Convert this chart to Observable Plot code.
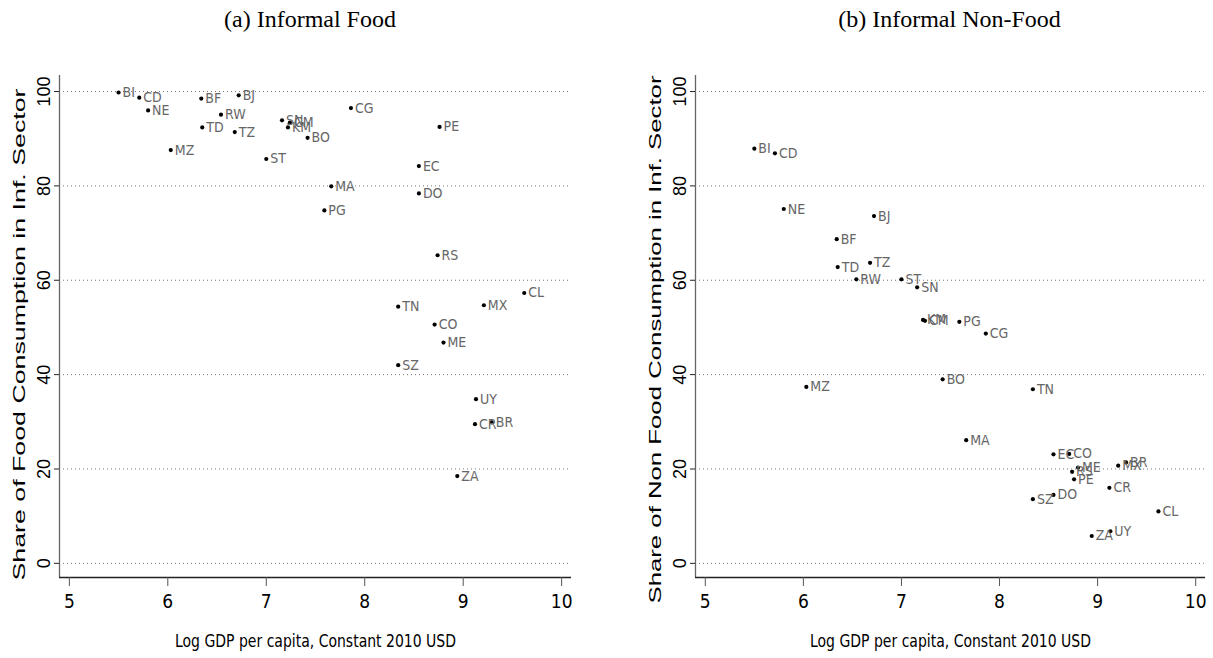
<!DOCTYPE html>
<html>
<head>
<meta charset="utf-8">
<script src="https://cdn.jsdelivr.net/npm/d3@7"></script>
<script src="https://cdn.jsdelivr.net/npm/@observablehq/plot@0.6"></script>
<style>
  html, body { margin: 0; padding: 0; background: #fff; }
  #wrap { display: flex; width: 1213px; height: 658px; }
  .col { display: flex; flex-direction: column; }
  .title { height: 40px; line-height: 38px; font-family: "Liberation Serif", "DejaVu Serif", serif; font-size: 24px; color: #000; text-align: center; }
</style>
</head>
<body>
<div id="wrap">
  <div class="col" id="colA" style="width:606px"><div class="title" style="padding-left:14px">(a) Informal Food</div></div>
  <div class="col" id="colB" style="width:607px"><div class="title" style="padding-left:80px">(b) Informal Non-Food</div></div>
</div>
<script>
// ---- data ----
const countries = ["BI","CD","NE","BF","BJ","RW","TD","TZ","MZ","ST","SN","CM","KM","BO","CG","MA","PG","PE","EC","DO","RS","CL","TN","MX","CO","ME","SZ","UY","CR","BR","ZA"];
const logGdp   = [5.50,5.71,5.80,6.34,6.72,6.54,6.35,6.68,6.03,7.00,7.16,7.24,7.22,7.42,7.86,7.66,7.59,8.76,8.55,8.55,8.74,9.62,8.34,9.21,8.71,8.80,8.34,9.13,9.12,9.29,8.94];
const foodShare    = [99.8,98.7,96.0,98.5,99.2,95.1,92.4,91.4,87.6,85.7,93.9,93.4,92.4,90.2,96.5,79.9,74.8,92.5,84.2,78.4,65.3,57.3,54.4,54.7,50.6,46.8,42.0,34.8,29.5,29.9,18.5];
const nonFoodShare = [87.9,86.9,75.1,68.7,73.6,60.2,62.8,63.7,37.4,60.2,58.5,51.4,51.6,39.0,48.7,26.1,51.2,17.8,23.1,14.5,19.4,11.0,36.9,20.7,23.2,20.3,13.6,6.8,16.0,21.4,5.8];
const xTicks = [5,6,7,8,9,10];
const yTicks = [0,20,40,60,80,100];
const xLabel = "Log GDP per capita, Constant 2010 USD";
const yLabelA = "Share of Food Consumption in Inf. Sector";
const yLabelB = "Share of Non Food Consumption in Inf. Sector";

const rows = countries.map((c, i) => ({code: c, gdp: logGdp[i], food: foodShare[i], nonfood: nonFoodShare[i]}));

const xDomain = [4.9, 10.1];
const yDomain = [-3, 103.4];
const sans = "'Liberation Sans', Arial, sans-serif";
const narrow = "'Liberation Sans Narrow', 'DejaVu Sans Condensed', sans-serif";

function panel(key, yLabel, width, marginLeft, marginRight, yLabelLen, yLabelShift) {
  const svg = Plot.plot({
    width, height: 618,
    marginTop: 35, marginBottom: 81, marginLeft, marginRight,
    style: {background: "#fff", fontFamily: sans},
    x: {domain: xDomain},
    y: {domain: yDomain},
    marks: [
      Plot.gridY(yTicks, {stroke: "#777", strokeOpacity: 1, strokeDasharray: "1,3", strokeWidth: 1}),
      Plot.ruleX([xDomain[0]], {stroke: "#666", strokeWidth: 1.3}),
      Plot.ruleY([yDomain[0]], {stroke: "#222", strokeWidth: 1.3}),
      Plot.axisX(xTicks, {tickSize: 9, tickPadding: 8, stroke: "#555", fontSize: 19, fontFamily: narrow, fill: "#000",
        label: xLabel, labelAnchor: "center", labelOffset: 69, labelArrow: "none"}),
      Plot.axisY(yTicks, {tickSize: 5, tickPadding: 5, tickRotate: -90, stroke: "#222", fontSize: 18, fill: "#000",
        label: yLabel, labelAnchor: "center", labelOffset: 47, labelArrow: "none"}),
      Plot.dot(rows, {x: "gdp", y: key, r: 2.1, fill: "#000", stroke: "none"}),
      Plot.text(rows, {x: "gdp", y: key, text: "code", dx: 4, textAnchor: "start", fill: "#666", fontSize: 14, fontFamily: narrow})
    ]
  });
  svg.querySelectorAll("text").forEach(t => {
    if (t.textContent === xLabel) { t.setAttribute("textLength", 281); t.setAttribute("lengthAdjust", "spacingAndGlyphs"); t.style.fontFamily = narrow; t.setAttribute("font-size", 18); }
    if (t.textContent === yLabel) {
      t.setAttribute("textLength", yLabelLen); t.setAttribute("lengthAdjust", "spacingAndGlyphs");
      t.setAttribute("font-size", 17);
      t.setAttribute("x", -yLabelShift);
    }
  });
  return svg;
}

document.getElementById("colA").appendChild(panel("food", yLabelA, 606, 59, 35, 492, 8));
document.getElementById("colB").appendChild(panel("nonfood", yLabelB, 607, 89, 8, 528, 13));
</script>
</body>
</html>
